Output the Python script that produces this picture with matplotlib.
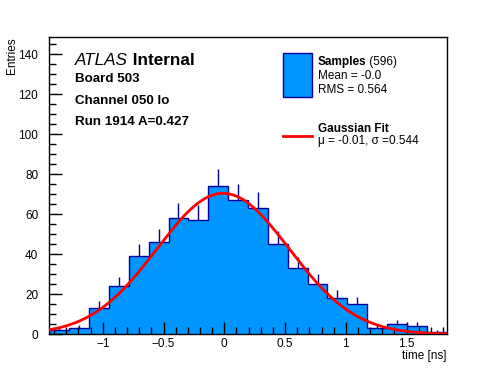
import numpy as np
import matplotlib

matplotlib.use("Agg")
import matplotlib.pyplot as plt
from matplotlib.patches import Rectangle
from matplotlib.ticker import MultipleLocator

plt.rcParams["font.family"] = ["Liberation Sans", "DejaVu Sans"]

# histogram of sample times
time_lo = -1.44
time_hi = 1.83
counts = [2, 3, 13, 24, 39, 46, 58, 57, 74, 67, 63, 45, 33, 25, 18, 15, 3, 5, 4, 1]
n_entries = 596
mean_txt = "-0.0"
rms_txt = "0.564"

# gaussian fit result
fit_norm = 70.5
fit_mu = -0.01
fit_sigma = 0.544

header_lines = ["Board 503", "Channel 050 lo", "Run 1914 A=0.427"]

FILL = "#0096ff"
EDGE = "#000099"
W, H = 496, 372


def fx(px):
    return px / W


def fy(py):
    return 1 - py / H


fig = plt.figure(figsize=(W / 100, H / 100), dpi=100)
ax = fig.add_axes([fx(49.3), fy(334.3), fx(446.7) - fx(49.3), fy(37.3) - fy(334.3)])

counts = np.array(counts, dtype=float)
edges = np.linspace(time_lo, time_hi, len(counts) + 1)
centers = 0.5 * (edges[:-1] + edges[1:])

ax.stairs(counts, edges, fill=True, color=FILL, zorder=1)
ax.stairs(counts, edges, color=EDGE, linewidth=1.0, zorder=2)
ax.vlines(centers, counts, counts + np.sqrt(counts), color=EDGE, linewidth=1.0, zorder=2)

xs = np.linspace(time_lo, time_hi, 400)
ax.plot(xs, fit_norm * np.exp(-0.5 * ((xs - fit_mu) / fit_sigma) ** 2),
        color="#ff0000", linewidth=2.0, zorder=3)

ax.set_xlim(time_lo, time_hi)
ax.set_ylim(0, 148.5)
ax.xaxis.set_major_locator(MultipleLocator(0.5))
ax.xaxis.set_minor_locator(MultipleLocator(0.1))
ax.yaxis.set_major_locator(MultipleLocator(20))
ax.yaxis.set_minor_locator(MultipleLocator(5))
ax.tick_params(which="both", direction="in", top=False, right=False, labelsize=8.5, width=1)
ax.tick_params(which="major", length=9)
ax.tick_params(which="minor", length=5)
ax.tick_params(axis="x", pad=3)
ax.tick_params(axis="y", pad=8)
ax.xaxis.set_major_formatter(plt.FuncFormatter(lambda v, p: f"{v:g}".replace("-", "\u2212")))
for spine in ax.spines.values():
    spine.set_linewidth(1)

fig.text(fx(446.5), fy(356), "time [ns]", ha="right", va="center", fontsize=8.5)
fig.text(fx(12), fy(37), "Entries", rotation=90, ha="center", va="top", fontsize=8.5)

# ATLAS label block
t1 = fig.text(fx(75), fy(65), "ATLAS", fontsize=12.3, style="italic", va="baseline")
ax.annotate(" Internal", xy=(1, 0), xycoords=t1, va="bottom", fontsize=12.3, fontweight="bold")
for py, line in zip([81.7, 103.5, 125], header_lines):
    fig.text(fx(75), fy(py), line, fontsize=9.6, fontweight="bold", va="baseline")

# legend
fig.add_artist(Rectangle((fx(283.3), fy(96.7)), fx(311.7) - fx(283.3), fy(53.3) - fy(96.7),
                         transform=fig.transFigure, facecolor=FILL, edgecolor=EDGE, linewidth=1))
s1 = fig.text(fx(317.7), fy(61.7), "Samples", fontsize=8.5, fontweight="bold", va="center")
ax.annotate(f" ({n_entries})", xy=(1, 0.5), xycoords=s1, va="center", fontsize=8.5)
fig.text(fx(317.7), fy(76), f"Mean = {mean_txt}", fontsize=8.5, va="center")
fig.text(fx(317.7), fy(90), f"RMS = {rms_txt}", fontsize=8.5, va="center")

fig.add_artist(plt.Line2D([fx(283.3), fx(311.7)], [fy(136), fy(136)], transform=fig.transFigure,
                          color="#ff0000", linewidth=2.0))
fig.text(fx(317.7), fy(129.3), "Gaussian Fit", fontsize=8.5, fontweight="bold", va="center")
fig.text(fx(317.7), fy(140.7), f"\u03bc = {fit_mu:.2f}, \u03c3 ={fit_sigma:.3f}", fontsize=8.5, va="center")

fig.savefig("out.png", dpi=100)
